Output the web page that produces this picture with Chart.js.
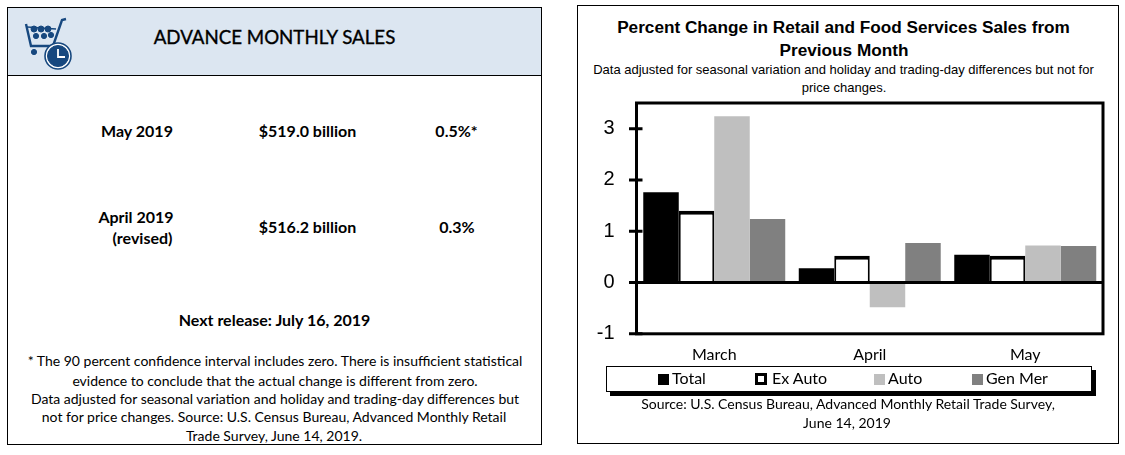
<!DOCTYPE html>
<html>
<head>
<meta charset="utf-8">
<style>
  body { margin:0; background:#fff; width:1125px; height:455px; overflow:hidden; position:relative; color:#000; }
  .panel { position:absolute; box-sizing:border-box; border:1px solid #000; }
  .t { position:absolute; white-space:nowrap; transform:translate(-50%,-50%); font-family:Lato,sans-serif; line-height:1; }
  .b { font-weight:bold; font-size:16px; }
  .note { font-size:14px; }
  .arial { font-family:"Liberation Sans",sans-serif; }
  #legend { position:absolute; left:606px; top:366px; width:486px; height:26px; box-sizing:border-box; background:#fff; border:1px solid #000; box-shadow:4px 4px 0 #000; }
  .sw { position:absolute; top:7px; width:11px; height:11px; box-sizing:border-box; }
  .lb { position:absolute; top:2px; font-family:Lato,sans-serif; font-size:16px; line-height:18px; white-space:nowrap; }
  canvas { position:absolute; left:577px; top:77px; }
</style>
</head>
<body>

<div class="panel" style="left:7px;top:7px;width:535px;height:438px"></div>
<div class="panel" style="left:7px;top:7px;width:535px;height:69px;background:#dce6f1"></div>
<svg style="position:absolute;left:23px;top:15px" width="56" height="56" viewBox="0 0 56 56">
  <g fill="#17487f" stroke="#17487f">
    <path d="M3 9 L8 31 L30 31 L39 5 L43 4" fill="none" stroke-width="2.4"/>
    <path d="M4 12 L33 14" fill="none" stroke-width="1.4"/>
    <circle cx="11" cy="14" r="3"/><circle cx="18" cy="14" r="3"/><circle cx="25" cy="14" r="3"/>
    <circle cx="13" cy="21" r="2.6"/><circle cx="21" cy="21" r="2.6"/><circle cx="28" cy="20" r="2.6"/>
    <circle cx="11" cy="37" r="2.6"/>
    <circle cx="35" cy="41" r="13" fill="#fff" stroke-width="1.6"/>
    <circle cx="35" cy="41" r="10.5"/>
  </g>
  <path d="M35 34 L35 42 L42 42" fill="none" stroke="#fff" stroke-width="1.8"/>
</svg>
<div class="t" style="left:274.5px;top:37px;font-size:18.7px;-webkit-text-stroke:0.35px #000">ADVANCE MONTHLY SALES</div>

<div class="t b" style="left:137px;top:131px">May 2019</div>
<div class="t b" style="left:307.5px;top:131px">$519.0 billion</div>
<div class="t b" style="left:456.5px;top:131px">0.5%*</div>
<div class="t b" style="left:136px;top:217px">April 2019</div>
<div class="t b" style="left:142.5px;top:238px">(revised)</div>
<div class="t b" style="left:307.5px;top:227px">$516.2 billion</div>
<div class="t b" style="left:457px;top:227px">0.3%</div>
<div class="t b" style="left:274.5px;top:320px">Next release: July 16, 2019</div>

<div class="t note" style="left:275px;top:361px">* The 90 percent confidence interval includes zero. There is insufficient statistical</div>
<div class="t note" style="left:275px;top:381px">evidence to conclude that the actual change is different from zero.</div>
<div class="t note" style="left:275px;top:399px">Data adjusted for seasonal variation and holiday and trading-day differences but</div>
<div class="t note" style="left:274px;top:417px">not for price changes. Source: U.S. Census Bureau, Advanced Monthly Retail</div>
<div class="t note" style="left:274px;top:436px">Trade Survey, June 14, 2019.</div>

<div class="panel" style="left:577px;top:5px;width:542px;height:439px"></div>
<div class="t arial" style="left:843.5px;top:28px;font-size:17.2px;font-weight:bold">Percent Change in Retail and Food Services Sales from</div>
<div class="t arial" style="left:844px;top:51px;font-size:17.2px;font-weight:bold">Previous Month</div>
<div class="t arial" style="left:843.5px;top:69px;font-size:13px">Data adjusted for seasonal variation and holiday and trading-day differences but not for</div>
<div class="t arial" style="left:844px;top:87px;font-size:13px">price changes.</div>

<canvas id="myChart" width="542" height="290"></canvas>

<div id="legend"></div>
<div class="t note" style="left:848px;top:404px">Source: U.S. Census Bureau, Advanced Monthly Retail Trade Survey,</div>
<div class="t note" style="left:847px;top:423px">June 14, 2019</div>

<script src="https://cdn.jsdelivr.net/npm/chart.js@4/dist/chart.umd.min.js"></script>
<script>
const months = ['March', 'April', 'May'];
const total = [1.76, 0.28, 0.54];
const exAuto = [1.4, 0.52, 0.52];
const auto = [3.24, -0.48, 0.72];
const genMer = [1.24, 0.77, 0.71];
const seriesNames = ['Total', 'Ex Auto', 'Auto', 'Gen Mer'];
const yTicks = [-1, 0, 1, 2, 3];

// legend box is plain html, the reference has it as a shadowed frame
const legendX = [[51, 65], [148, 165], [267, 281], [365, 379]];
const legendStyle = ['background:#000', 'background:#fff;border:3px solid #000;width:12px;height:12px;top:6px', 'background:#bfbfbf', 'background:#808080'];
seriesNames.forEach(function (name, i) {
  document.getElementById('legend').innerHTML +=
    '<div class="sw" style="left:' + legendX[i][0] + 'px;' + legendStyle[i] + '"></div>' +
    '<div class="lb" style="left:' + legendX[i][1] + 'px">' + name + '</div>';
});

// frame, zero line and the ticks that cross the y axis
const framePlugin = {
  id: 'frame',
  afterDatasetsDraw(chart) {
    const a = chart.chartArea, y = chart.scales.y, c = chart.ctx;
    c.save();
    c.strokeStyle = '#000';
    c.lineWidth = 3;
    c.strokeRect(a.left, a.top, a.right - a.left, a.bottom - a.top);
    c.beginPath();
    c.moveTo(a.left, y.getPixelForValue(0));
    c.lineTo(a.right, y.getPixelForValue(0));
    yTicks.forEach(function (v) {
      c.moveTo(a.left - 7.5, y.getPixelForValue(v));
      c.lineTo(a.left + 6, y.getPixelForValue(v));
    });
    c.stroke();
    c.restore();
  }
};

const barDefaults = { borderSkipped: false, categoryPercentage: 0.913, barPercentage: 1 };

new Chart(document.getElementById('myChart'), {
  type: 'bar',
  plugins: [framePlugin],
  data: {
    labels: months,
    datasets: [
      Object.assign({ label: seriesNames[0], data: total, backgroundColor: '#000' }, barDefaults),
      Object.assign({ label: seriesNames[1], data: exAuto, backgroundColor: '#fff', borderColor: '#000', borderWidth: { top: 4, left: 2, right: 2, bottom: 0 } }, barDefaults),
      Object.assign({ label: seriesNames[2], data: auto, backgroundColor: '#bfbfbf' }, barDefaults),
      Object.assign({ label: seriesNames[3], data: genMer, backgroundColor: '#808080' }, barDefaults)
    ]
  },
  options: {
    responsive: false,
    animation: false,
    layout: { padding: { left: 0, right: 16, top: 12, bottom: 0 } },
    plugins: { legend: { display: false }, tooltip: { enabled: false } },
    scales: {
      x: {
        grid: { display: false },
        border: { display: false },
        ticks: { color: '#000', font: { family: 'Lato', size: 16 }, padding: 3, maxRotation: 0 }
      },
      y: {
        min: -1,
        max: 3.5,
        afterFit(scale) { scale.width = 59.5; },
        grid: { display: false },
        border: { display: false },
        afterBuildTicks(scale) { scale.ticks = yTicks.map(function (v) { return { value: v }; }); },
        ticks: { color: '#000', font: { family: 'Liberation Sans', size: 20 }, padding: 14 }
      }
    }
  }
});
</script>
</body>
</html>
